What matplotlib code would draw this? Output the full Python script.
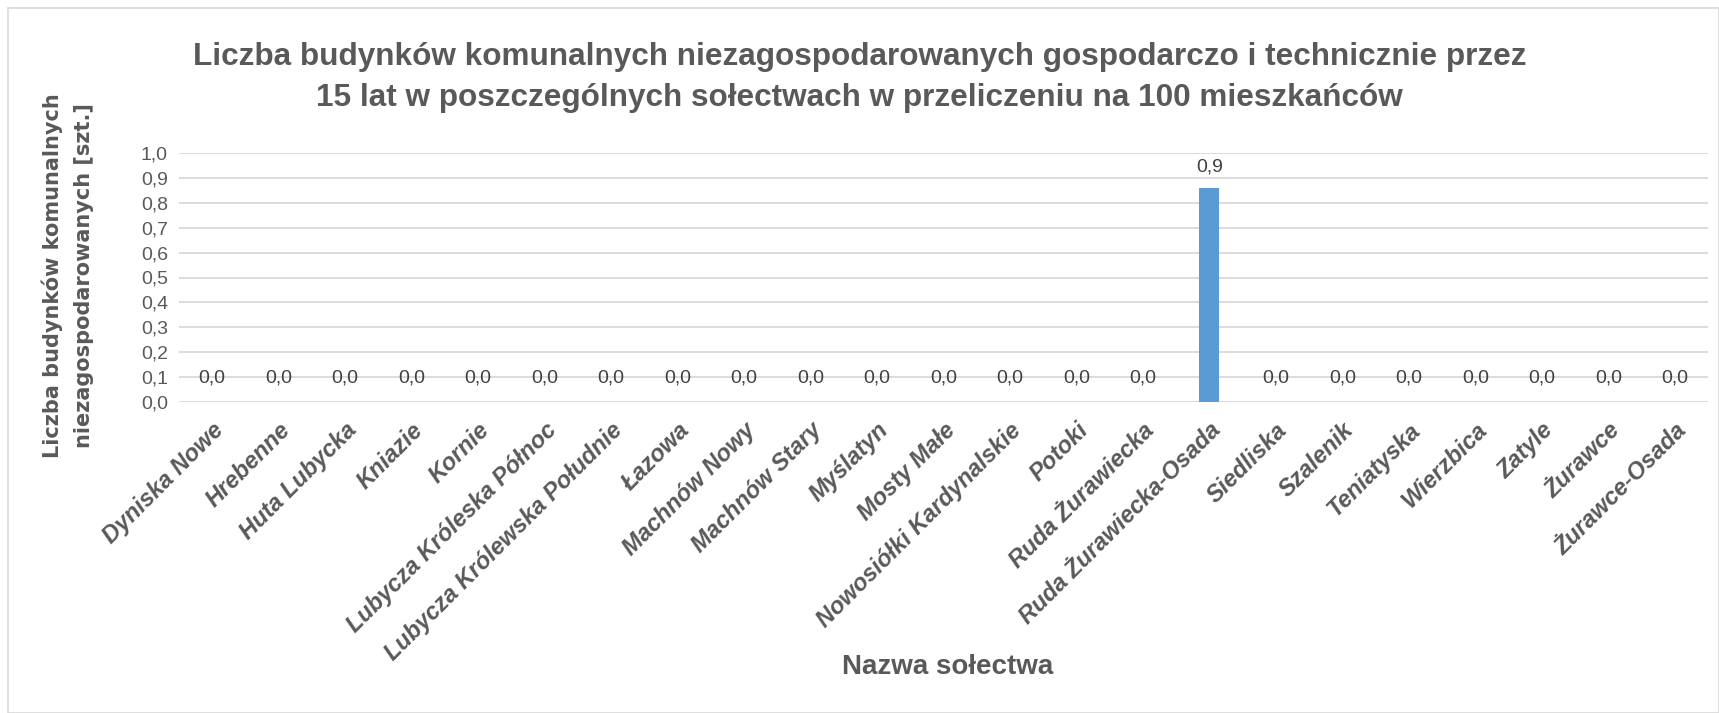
import matplotlib
matplotlib.use('Agg')
import matplotlib.pyplot as plt
from matplotlib.patches import Rectangle
from matplotlib import font_manager

# dane: liczba budynków na 100 mieszkańców
solectwa = ['Dyniska Nowe', 'Hrebenne', 'Huta Lubycka', 'Kniazie', 'Kornie',
            'Lubycza Króleska Północ', 'Lubycza Królewska Południe', 'Łazowa',
            'Machnów Nowy', 'Machnów Stary', 'Myślatyn', 'Mosty Małe',
            'Nowosiółki Kardynalskie', 'Potoki', 'Ruda Żurawiecka',
            'Ruda Żurawiecka-Osada', 'Siedliska', 'Szalenik', 'Teniatyska',
            'Wierzbica', 'Zatyle', 'Żurawce', 'Żurawce-Osada']
wartosci = [0.0, 0.0, 0.0, 0.0, 0.0, 0.0, 0.0, 0.0, 0.0, 0.0, 0.0, 0.0,
            0.0, 0.0, 0.0, 0.86, 0.0, 0.0, 0.0, 0.0, 0.0, 0.0, 0.0]
y_ticks = [0.0, 0.1, 0.2, 0.3, 0.4, 0.5, 0.6, 0.7, 0.8, 0.9, 1.0]

names = {f.name for f in font_manager.fontManager.ttflist}
narrow = 'Liberation Sans Narrow' if 'Liberation Sans Narrow' in names else 'Liberation Sans'
GRAY = '#595959'

fig = plt.figure(figsize=(17.19, 7.13), dpi=100)
ax = fig.add_axes([179 / 1719, 1 - 402 / 713, (1708 - 179) / 1719, (402 - 153) / 713])

# ramka wykresu
fig.patches.append(Rectangle((8 / 1719, 0.0), 1 - 8 / 1719, 1 - 8 / 713, transform=fig.transFigure,
                             fill=False, edgecolor='#D9D9D9', linewidth=1.2))

x = list(range(len(solectwa)))
ax.bar(x, wartosci, width=0.3, color='#5B9BD5', zorder=3)

for xi, v in zip(x, wartosci):
    ax.annotate(f'{v:.1f}'.replace('.', ','), (xi, v), xytext=(0, 11 if v == 0 else 9),
                textcoords='offset points', ha='center', va='bottom',
                fontsize=14, color='#404040', family=narrow)

ax.set_ylim(0, 1.0)
ax.set_xlim(-0.5, len(solectwa) - 0.5)
ax.set_yticks(y_ticks)
ax.set_yticklabels([f'{t:.1f}'.replace('.', ',') for t in y_ticks], fontsize=14,
                   color=GRAY, family=narrow)
ax.grid(axis='y', color='#D9D9D9', linewidth=1.3, zorder=0)
ax.tick_params(axis='both', length=0)
ax.tick_params(axis='y', pad=8)
for s in ax.spines.values():
    s.set_visible(False)

ax.set_xticks(x)
ax.set_xticklabels(solectwa, rotation=45, ha='right', rotation_mode='anchor',
                   fontsize=17, fontweight='bold', fontstyle='italic', color=GRAY,
                   family='Liberation Sans')
ax.tick_params(axis='x', pad=12)

fig.text(0.5, 1 - 57 / 713, 'Liczba budynków komunalnych niezagospodarowanych gospodarczo i technicznie przez',
         ha='center', va='center', fontsize=22.7, fontweight='bold', color=GRAY, family=narrow)
fig.text(0.5, 1 - 98 / 713, '15 lat w poszczególnych sołectwach w przeliczeniu na 100 mieszkańców',
         ha='center', va='center', fontsize=22.7, fontweight='bold', color=GRAY, family=narrow)

fig.text(68 / 1719, 1 - 276 / 713, 'Liczba budynków komunalnych\nniezagospodarowanych [szt.]',
         rotation=90, ha='center', va='center', fontsize=15, fontweight='bold',
         color=GRAY, linespacing=1.7)
fig.text(948 / 1719, 1 - 667 / 713, 'Nazwa sołectwa', ha='center', va='center',
         fontsize=20, fontweight='bold', color=GRAY, family=narrow)

fig.savefig('out.png', dpi=100)
